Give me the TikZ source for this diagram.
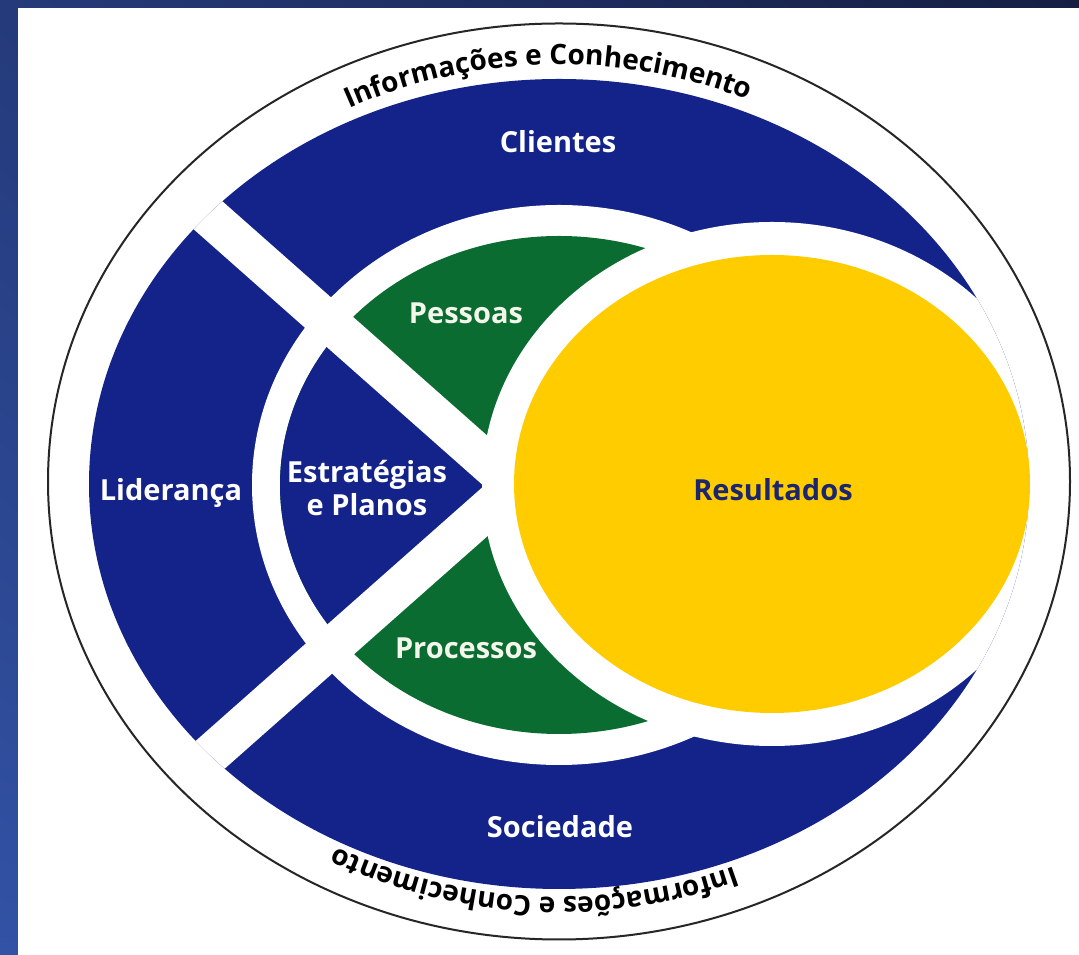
\documentclass[tikz,border=0pt]{standalone}
\usepackage{fontspec}
\setmainfont{Open Sans}
\usetikzlibrary{decorations.text,shadings}
\definecolor{rblue}{RGB}{20,35,138}
\definecolor{rgreen}{RGB}{10,108,48}
\definecolor{ryellow}{RGB}{255,204,0}
\definecolor{rnavy}{RGB}{28,38,110}
\definecolor{rwhite}{RGB}{244,246,236}
\definecolor{bgA}{RGB}{36,58,122}
\definecolor{bgB}{RGB}{22,31,66}
\definecolor{bgC}{RGB}{50,82,165}
\definecolor{bgD}{RGB}{40,66,140}
\newcommand\lblfont{\fontsize{29}{33}\selectfont\bfseries}
\newcommand\arcfont{\fontsize{28}{28}\selectfont\bfseries}
\begin{document}
\begin{tikzpicture}[x=1pt,y=1pt,
  lbl/.style={font=\lblfont, text=white, inner sep=0pt, anchor=base},
  band/.style={white, line width=40pt}]
\useasboundingbox (0,0) rectangle (1079,955);
\shade[upper left=bgA, upper right=bgB, lower left=bgC, lower right=bgD] (0,0) rectangle (1079,955);
\fill[white] (18,0) rectangle (1079,947);
% outer thin ellipse
\draw[line width=2pt, black!85] (559,473.5) ellipse[x radius=511, y radius=458];
% blue ring
\fill[rblue] (559,471) ellipse[x radius=470, y radius=405];
\fill[white] (559,470) ellipse[x radius=307, y radius=280];
% inner disk: green with blue wedge
\begin{scope}
  \clip (559,470) ellipse[x radius=279, y radius=249];
  \fill[rgreen] (559,470) ellipse[x radius=279, y radius=249];
  \fill[rblue] (514,469) -- (114,823) -- (114,115) -- cycle;
\end{scope}
% white bands
\begin{scope}
  \clip (559,471) ellipse[x radius=470, y radius=405];
  \draw[band] (536.5,449.1) -- ++(138.5:650);
  \draw[band] (536.5,488.9) -- ++(221.5:650);
  \fill[white] (772,471) ellipse[x radius=290, y radius=262];
\end{scope}
% yellow
\fill[ryellow] (772,471) ellipse[x radius=258, y radius=229];
% labels
\node[lbl] (cli) at (558,802) {Clientes};
\node[lbl, text=rwhite] (pes) at (466,631) {Pessoas};
\node[lbl] (est) at (367,472) {Estratégias};
\node[lbl] (pla) at (367,439) {e Planos};
\node[lbl] (lid) at (171,454) {Liderança};
\node[lbl, text=rnavy] (res) at (773,454) {Resultados};
\node[lbl, text=rwhite] (pro) at (466,296) {Processos};
\node[lbl] (soc) at (560,117) {Sociedade};
% arc texts
\path[decorate, decoration={text along path, text={|\arcfont|Informações e Conhecimento}, text align=center}]
  (559,473.5) ++(158:468 and 417) arc[start angle=158, end angle=25, x radius=468, y radius=417];
\path[decorate, decoration={text along path, text={|\arcfont|Informações e Conhecimento}, text align=center}]
  (559,473.5) ++(-20:468 and 415.5) arc[start angle=-20, end angle=-167, x radius=468, y radius=415.5];
\end{tikzpicture}
\end{document}
